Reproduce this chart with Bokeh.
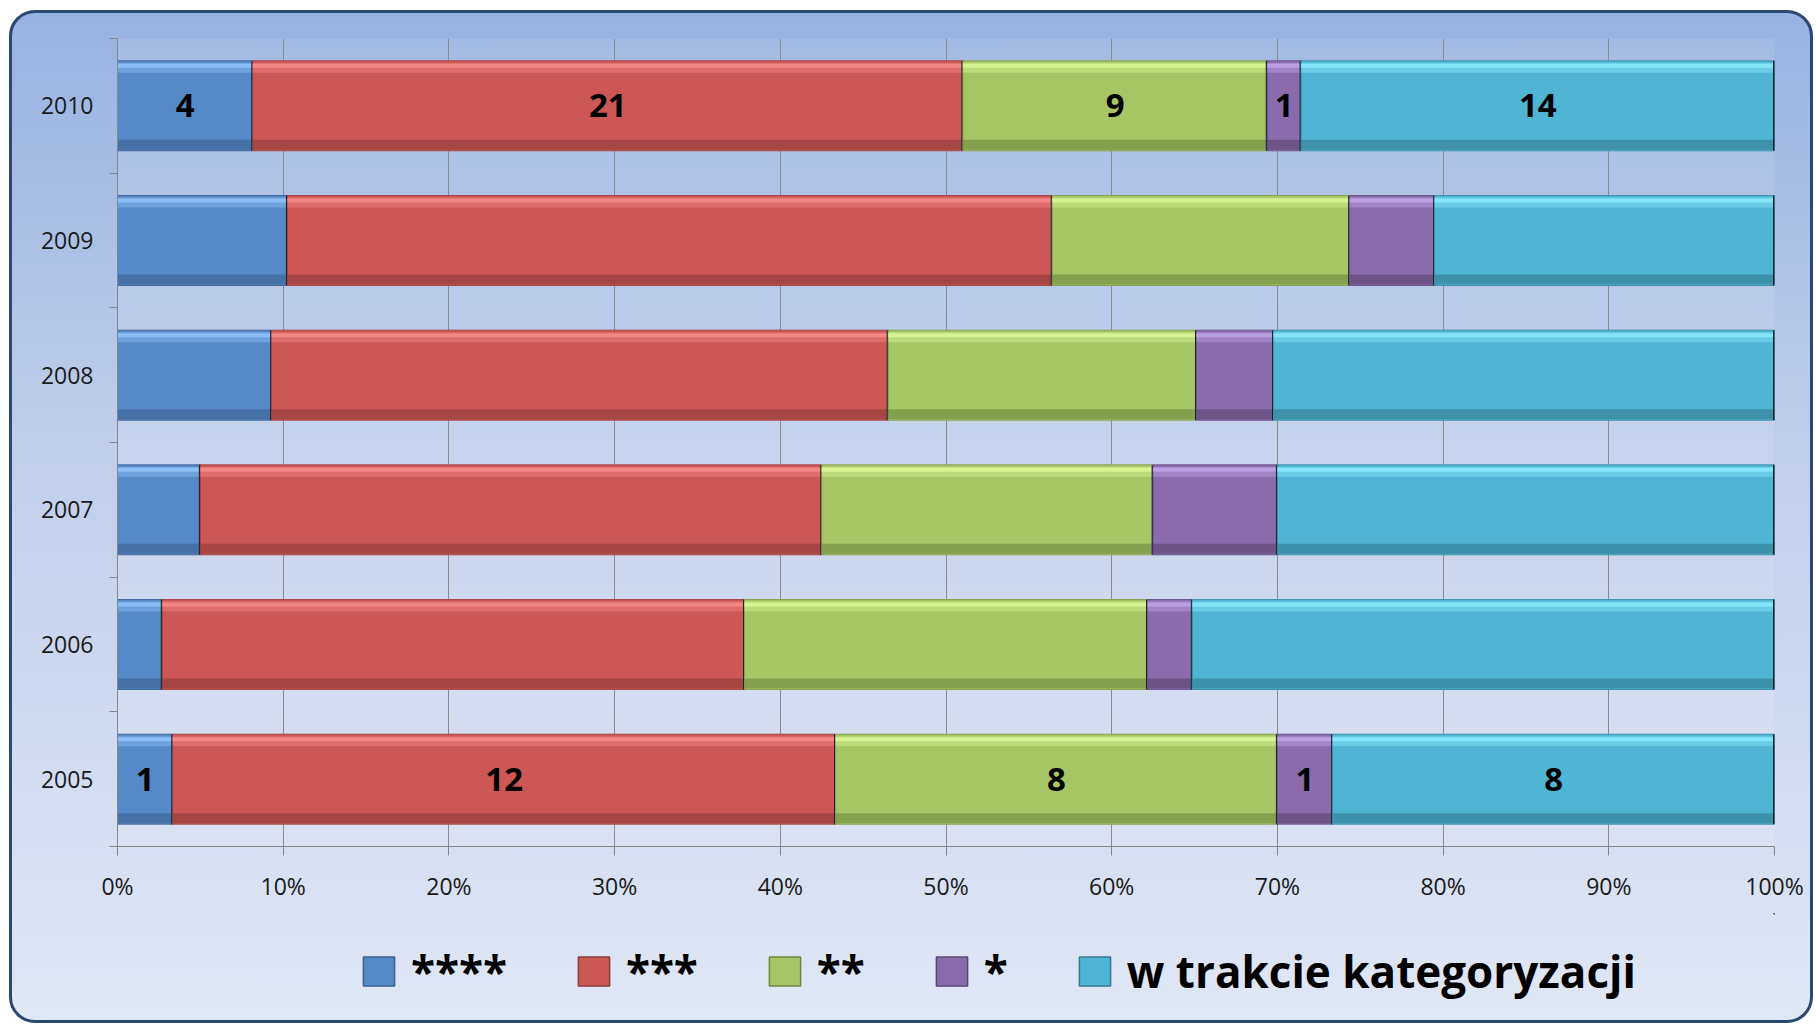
from bokeh.plotting import figure
from bokeh.layouts import column
from bokeh.models import ColumnDataSource, Range1d, FixedTicker, NumeralTickFormatter, Legend, LegendItem
from bokeh.core.properties import value
from bokeh.embed import file_html
from bokeh.resources import INLINE

# ---- data (counts per year) ----
years = ["2005", "2006", "2007", "2008", "2009", "2010"]
series_names = ["****", "***", "**", "*", "w trakcie kategoryzacji"]
s4 = [1, 1, 2, 4, 4, 4]
s3 = [12, 13, 15, 16, 18, 21]
s2 = [8, 9, 8, 8, 7, 9]
s1 = [1, 1, 3, 2, 2, 1]
s_wt = [8, 13, 12, 13, 8, 14]
labeled_years = ["2005", "2010"]
x_ticks = [0.0, 0.1, 0.2, 0.3, 0.4, 0.5, 0.6, 0.7, 0.8, 0.9, 1.0]

# ---- styles ----
main_colors = ["#5589c8", "#cd5755", "#a6c665", "#8a6cad", "#50b5d4"]
hi_colors = ["#8fc0f7", "#f58a88", "#d8f496", "#bca3e4", "#8ae8fc"]
sh_colors = ["#3a6190", "#8a3a39", "#6e8540", "#594570", "#347a8f"]
edge_colors = ["#43699c", "#a94644", "#89a24f", "#6e568d", "#3f93ad"]
FONT = "Open Sans"

series = [s4, s3, s2, s1, s_wt]
totals = [sum(v[i] for v in series) for i in range(len(years))]
ypos = [i + 0.5 for i in range(len(years))]
BAR_H = 0.668
PX = 6.0 / 808.0  # data units per pixel on y

W_IN = 1798
H_TOP = 900
H_LEG = 107

p = figure(width=W_IN, height=H_TOP, x_range=Range1d(0, 1), y_range=Range1d(0, 6),
           output_backend="svg", toolbar_location=None,
           min_border_left=105, min_border_right=36, min_border_top=25, min_border_bottom=67)
p.border_fill_alpha = 0
p.background_fill_color = "white"
p.background_fill_alpha = 0.1
p.outline_line_color = None

# grid
p.xgrid.ticker = FixedTicker(ticks=x_ticks)
p.xgrid.grid_line_color = "#8a8a8a"
p.xgrid.grid_line_width = 1
p.ygrid.visible = False

# x axis
xa = p.xaxis[0]
xa.ticker = FixedTicker(ticks=x_ticks)
xa.formatter = NumeralTickFormatter(format="0%")
xa.axis_line_color = "#868686"
xa.major_tick_line_color = "#868686"
xa.major_tick_out = 9
xa.major_tick_in = 0
xa.minor_tick_line_color = None
xa.major_label_text_font = FONT
xa.major_label_text_font_size = "23px"
xa.major_label_text_color = "#1a1a1a"
xa.major_label_standoff = 14

# y axis
ya = p.yaxis[0]
ya.ticker = FixedTicker(ticks=ypos, minor_ticks=[float(i) for i in range(len(years) + 1)])
ya.major_label_overrides = {y: yr for y, yr in zip(ypos, years)}
ya.axis_line_color = "#868686"
ya.major_tick_line_color = None
ya.major_tick_out = 0
ya.major_tick_in = 0
ya.minor_tick_line_color = "#868686"
ya.minor_tick_out = 8
ya.minor_tick_in = 0
ya.major_label_text_font = FONT
ya.major_label_text_font_size = "23px"
ya.major_label_text_color = "#1a1a1a"
ya.major_label_standoff = 16

# legend-only figure below the chart (its bars lie outside its visible ranges)
lg = figure(width=W_IN, height=H_LEG, x_range=Range1d(-20, -19), y_range=Range1d(-20, -19),
            output_backend="svg", toolbar_location=None,
            x_axis_location=None, y_axis_location=None,
            min_border_left=0, min_border_right=0, min_border_top=0, min_border_bottom=0)
lg.border_fill_alpha = 0
lg.background_fill_alpha = 0
lg.outline_line_color = None
lg.grid.visible = False

legend_items = []
cum = [0.0] * len(years)
label_x, label_y, label_t = [], [], []
for k, vals in enumerate(series):
    left = [cum[i] for i in range(len(years))]
    right = [cum[i] + vals[i] / totals[i] for i in range(len(years))]
    cum = right
    src = ColumnDataSource(dict(
        y=ypos, left=left, right=right,
        y_hi=[y + BAR_H / 2 - 7 * PX for y in ypos],
        y_hi2=[y + BAR_H / 2 - 5 * PX for y in ypos],
        y_sh=[y - BAR_H / 2 + 6 * PX for y in ypos],
        y0=[y - BAR_H / 2 for y in ypos], y1=[y + BAR_H / 2 for y in ypos],
    ))
    p.hbar(y="y", left="left", right="right", height=BAR_H, source=src,
           fill_color=main_colors[k], line_color=edge_colors[k], line_width=1)
    p.hbar(y="y_hi", left="left", right="right", height=10 * PX, source=src,
           fill_color=hi_colors[k], fill_alpha=0.45, line_color=None)
    p.hbar(y="y_hi2", left="left", right="right", height=4 * PX, source=src,
           fill_color=hi_colors[k], fill_alpha=0.9, line_color=None)
    p.hbar(y="y_sh", left="left", right="right", height=10 * PX, source=src,
           fill_color=sh_colors[k], fill_alpha=0.6, line_color=None)
    p.segment(x0="right", x1="right", y0="y0", y1="y1", source=src,
              line_color="#15232e", line_width=3)
    sw = lg.hbar(y="y", left="left", right="right", height=BAR_H, source=src,
                 fill_color=main_colors[k], line_color=sh_colors[k], line_width=1.5)
    legend_items.append(LegendItem(label=series_names[k], renderers=[sw]))
    for i, yr in enumerate(years):
        if yr in labeled_years:
            label_x.append((left[i] + right[i]) / 2)
            label_y.append(ypos[i])
            label_t.append(str(vals[i]))

p.text(x=label_x, y=label_y, text=label_t, text_font=value(FONT), text_font_style="bold",
       text_font_size="33px", text_color="black", text_align="center", text_baseline="middle")

legend = Legend(items=legend_items, orientation="horizontal", location=(242, 19),
                spacing=67, label_standoff=13, glyph_width=39, glyph_height=36,
                padding=0, margin=0, background_fill_alpha=0, border_line_alpha=0,
                label_text_font=FONT, label_text_font_style="bold", label_text_font_size="44px",
                label_text_color="black")
lg.add_layout(legend, "center")

layout = column(p, lg, width=1804, height=1013, spacing=0,
                styles={"background": "linear-gradient(180deg, #97b2e2 0%, #c2cfeb 45%, #e0e7f5 100%)",
                        "border": "3px solid #2a4870", "border-radius": "26px",
                        "margin-left": "9px", "margin-top": "10px", "box-sizing": "border-box"})

open("out.html", "w").write(file_html(layout, INLINE))
